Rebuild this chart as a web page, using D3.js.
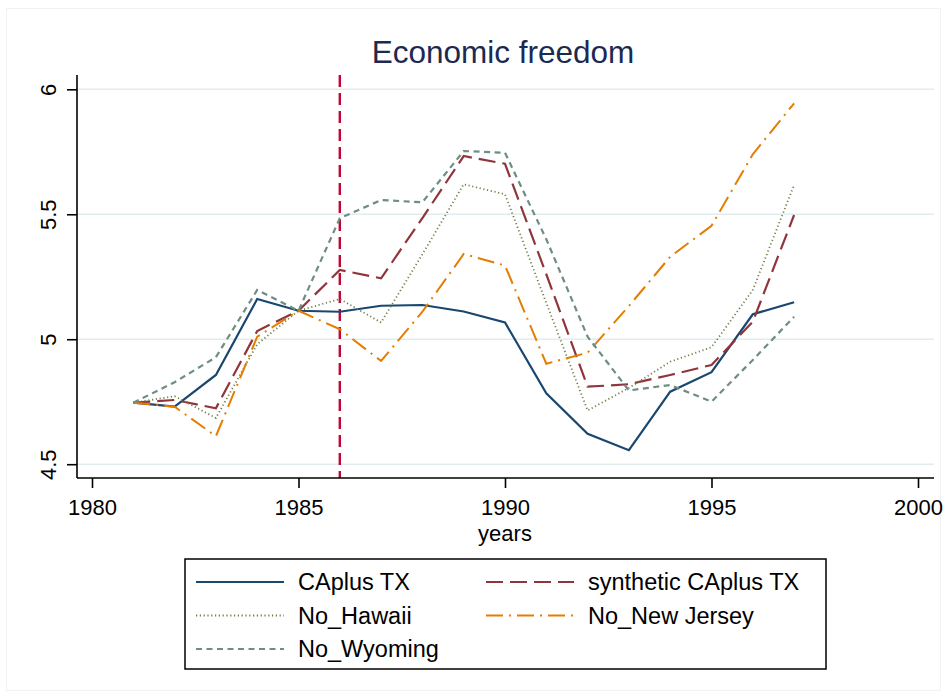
<!DOCTYPE html>
<html>
<head>
<meta charset="utf-8">
<script src="https://cdn.jsdelivr.net/npm/d3@7"></script>
<style>
  html, body { margin: 0; padding: 0; background: #ffffff; }
  svg { display: block; font-family: "Liberation Sans", Arial, sans-serif; }
</style>
</head>
<body>
<svg id="chart" width="947" height="696"></svg>
<script>
// Economic freedom index, 1981-1997
const years = [1981, 1982, 1983, 1984, 1985, 1986, 1987, 1988, 1989, 1990, 1991, 1992, 1993, 1994, 1995, 1996, 1997];
const caplusTX   = [4.746, 4.730, 4.857, 5.161, 5.114, 5.110, 5.134, 5.137, 5.111, 5.067, 4.784, 4.622, 4.556, 4.790, 4.868, 5.100, 5.148];
const synthetic  = [4.746, 4.757, 4.724, 5.033, 5.114, 5.277, 5.244, 5.485, 5.733, 5.702, 5.260, 4.810, 4.820, 4.857, 4.897, 5.070, 5.497];
const noHawaii   = [4.746, 4.772, 4.685, 4.980, 5.114, 5.161, 5.067, 5.340, 5.620, 5.580, 5.145, 4.715, 4.805, 4.910, 4.968, 5.197, 5.617];
const noNewJersey= [4.746, 4.730, 4.612, 5.010, 5.114, 5.040, 4.913, 5.110, 5.341, 5.295, 4.902, 4.946, 5.133, 5.330, 5.454, 5.740, 5.944];
const noWyoming  = [4.746, 4.828, 4.928, 5.197, 5.114, 5.484, 5.557, 5.548, 5.753, 5.746, 5.400, 5.010, 4.795, 4.817, 4.750, 4.917, 5.090];

const xTicks = [1980, 1985, 1990, 1995, 2000];
const yTicks = [4.5, 5, 5.5, 6];
const treatmentYear = 1986;

const seriesNames = ["CAplus TX", "synthetic CAplus TX", "No_Hawaii", "No_New Jersey", "No_Wyoming"];
const seriesValues = [caplusTX, synthetic, noHawaii, noNewJersey, noWyoming];
const seriesStyle = [
  { color: "#1a476f", width: 2.2, dash: null },
  { color: "#90353b", width: 2.2, dash: "17,7" },
  { color: "#6f8048", width: 1.8, dash: "1.2,2.6" },
  { color: "#e37e00", width: 2.0, dash: "17,6,2,6" },
  { color: "#6e8e84", width: 2.2, dash: "6,4.5" }
];

const svg = d3.select("#chart");

// faint outer frame
svg.append("rect")
  .attr("x", 6.5).attr("y", 8.5).attr("width", 934).attr("height", 682)
  .attr("fill", "#ffffff").attr("stroke", "#f0f2f3").attr("stroke-width", 1);

const plot = { left: 77, right: 934, top: 75, bottom: 478 };

const x = d3.scaleLinear().domain([1980, 2000]).range([92, 918]);
const y = d3.scaleLinear().domain([4.5, 6]).range([464.2, 89.3]);

// title
svg.append("text")
  .attr("x", 503).attr("y", 63)
  .attr("text-anchor", "middle")
  .attr("font-size", 31.5)
  .attr("fill", "#1c2951")
  .text("Economic freedom");

// horizontal gridlines
svg.append("g").selectAll("line")
  .data(yTicks)
  .join("line")
  .attr("x1", plot.left).attr("x2", plot.right)
  .attr("y1", d => y(d)).attr("y2", d => y(d))
  .attr("stroke", "#e2ecee").attr("stroke-width", 1.6);

// treatment year marker
svg.append("line")
  .attr("x1", x(treatmentYear)).attr("x2", x(treatmentYear))
  .attr("y1", plot.top).attr("y2", plot.bottom)
  .attr("stroke", "#c10534").attr("stroke-width", 2.4)
  .attr("stroke-dasharray", "12,6");

// series lines
const line = d3.line()
  .x((d, i) => x(years[i]))
  .y(d => y(d));

svg.append("g").selectAll("path")
  .data(seriesValues)
  .join("path")
  .attr("d", d => line(d))
  .attr("fill", "none")
  .attr("stroke", (d, i) => seriesStyle[i].color)
  .attr("stroke-width", (d, i) => seriesStyle[i].width)
  .attr("stroke-dasharray", (d, i) => seriesStyle[i].dash)
  .attr("stroke-linejoin", "miter");

// x axis
const xAxis = d3.axisBottom(x)
  .tickValues(xTicks)
  .tickFormat(d3.format("d"))
  .tickSize(10)
  .tickSizeOuter(0);
const gx = svg.append("g")
  .attr("transform", `translate(0,${plot.bottom})`)
  .call(xAxis);
gx.select(".domain").remove();
gx.append("line")
  .attr("x1", plot.left).attr("x2", plot.right)
  .attr("stroke", "#000").attr("stroke-width", 1.6);
gx.selectAll(".tick line").attr("stroke", "#000").attr("stroke-width", 1.6);
gx.selectAll(".tick text")
  .attr("font-size", 22)
  .attr("font-family", "Liberation Sans, Arial, sans-serif")
  .attr("fill", "#000")
  .attr("dy", 0)
  .attr("y", 37);

svg.append("text")
  .attr("x", 505).attr("y", 541)
  .attr("text-anchor", "middle")
  .attr("font-size", 22)
  .attr("fill", "#000")
  .text("years");

// y axis
const yAxis = d3.axisLeft(y)
  .tickValues(yTicks)
  .tickFormat(d => String(d))
  .tickSize(10)
  .tickSizeOuter(0);
const gy = svg.append("g")
  .attr("transform", `translate(${plot.left},0)`)
  .call(yAxis);
gy.select(".domain").remove();
gy.append("line")
  .attr("y1", plot.top).attr("y2", plot.bottom)
  .attr("stroke", "#000").attr("stroke-width", 1.6);
gy.selectAll(".tick line").attr("stroke", "#000").attr("stroke-width", 1.6);
gy.selectAll(".tick text")
  .attr("font-size", 22)
  .attr("font-family", "Liberation Sans, Arial, sans-serif")
  .attr("fill", "#000")
  .attr("x", null).attr("dy", null)
  .attr("text-anchor", "middle")
  .attr("transform", "translate(-21,0) rotate(-90)")
  .attr("y", 0);

// legend
const legend = svg.append("g");
legend.append("rect")
  .attr("x", 185).attr("y", 559).attr("width", 641).attr("height", 110)
  .attr("fill", "#fff").attr("stroke", "#000").attr("stroke-width", 1.5);

const legendPos = [
  { lx: 196, ty: 582 }, { lx: 486, ty: 582 },
  { lx: 196, ty: 615.5 }, { lx: 486, ty: 615.5 },
  { lx: 196, ty: 649 }
];
const entries = legend.selectAll("g.entry")
  .data(seriesNames)
  .join("g")
  .attr("class", "entry")
  .attr("transform", (d, i) => `translate(${legendPos[i].lx},${legendPos[i].ty})`);
entries.append("line")
  .attr("x1", 0).attr("x2", 88)
  .attr("stroke", (d, i) => seriesStyle[i].color)
  .attr("stroke-width", (d, i) => seriesStyle[i].width)
  .attr("stroke-dasharray", (d, i) => seriesStyle[i].dash);
entries.append("text")
  .attr("x", 102).attr("y", 8)
  .attr("font-size", 23.5)
  .attr("fill", "#000")
  .text(d => d);
</script>
</body>
</html>
